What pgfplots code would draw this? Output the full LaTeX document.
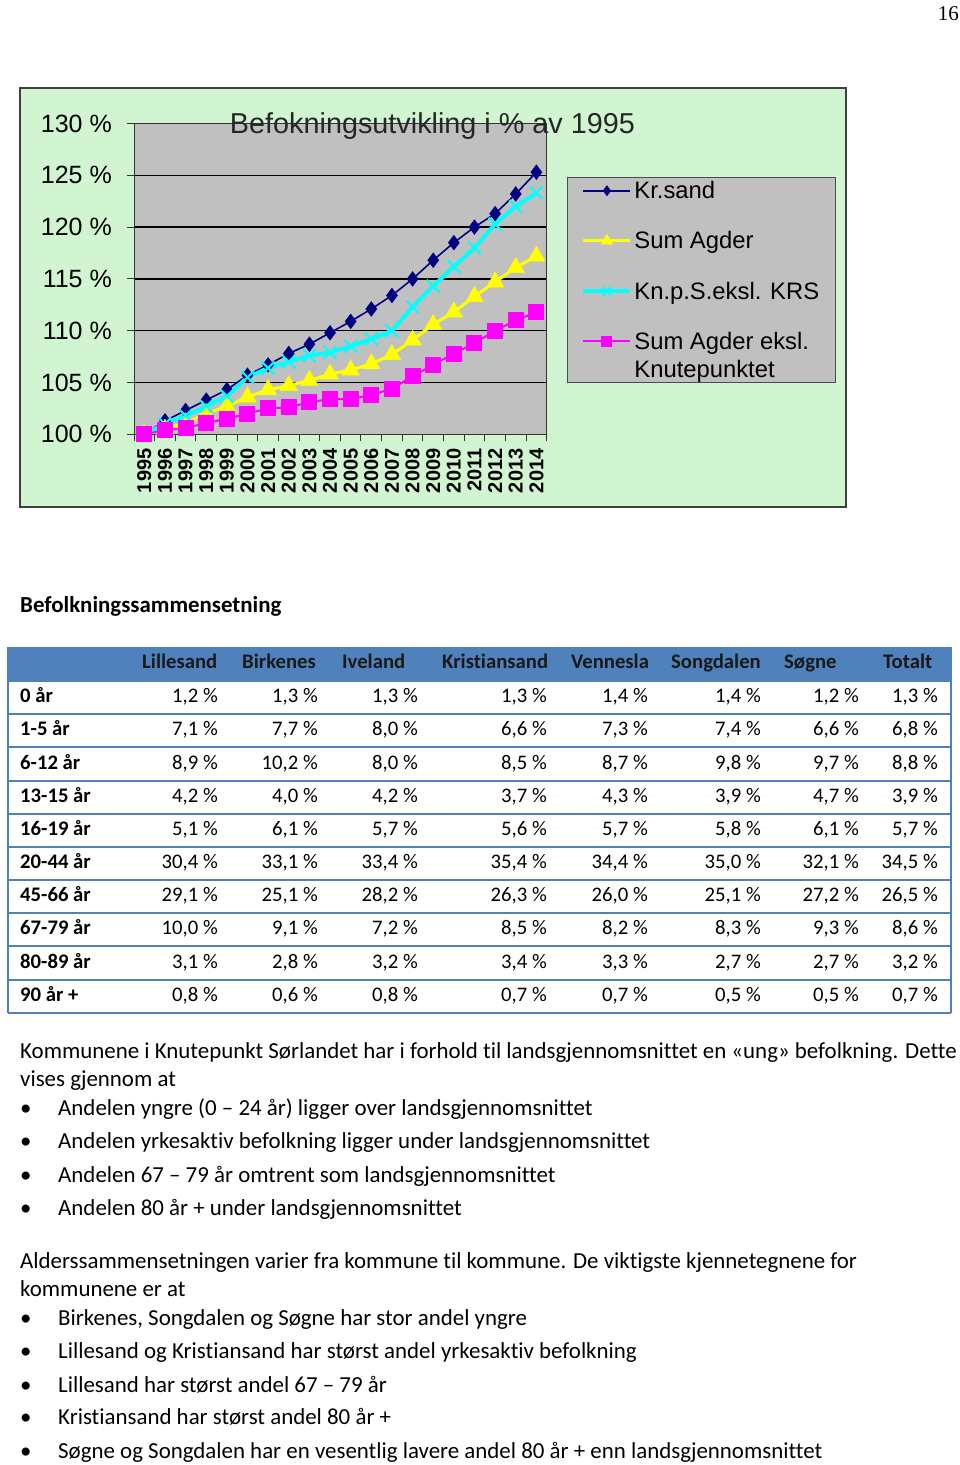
\documentclass[border=0pt]{standalone}
\usepackage{fontspec}
\setmainfont{Carlito}[Ligatures=NoCommon]
\newfontfamily\chartfont{Liberation Sans}
\newfontfamily\timesfont{Liberation Serif}
\usepackage{pgfplots}
\pgfplotsset{compat=1.18}
\definecolor{chartgreen}{RGB}{208,245,208}
\definecolor{plotgray}{RGB}{192,192,192}
\definecolor{navyblue}{RGB}{0,0,128}
\definecolor{tblue}{RGB}{79,129,189}
\definecolor{myyellow}{RGB}{255,255,0}
\definecolor{mycyan}{RGB}{0,255,255}
\definecolor{mymagenta}{RGB}{255,0,255}
\pgfplotsset{
  leg one/.style={legend image code/.code={\draw[mark repeat=2,mark phase=2,##1, every mark/.append style={scale=0.65}] plot coordinates {(0pt,8pt) (23.5pt,8pt) (47pt,8pt)};}},
  leg two/.style={legend image code/.code={\draw[mark repeat=2,mark phase=2,##1, every mark/.append style={scale=0.65}] plot coordinates {(0pt,36pt) (23.5pt,36pt) (47pt,36pt)};}},
}
\newcommand\bodyfont{\fontsize{22.9}{27}\selectfont}
\newcommand\tabfont{\fontsize{20.7}{24}\selectfont}
\newcount\trowi
\trowi=0
\newcommand\trow[9]{%
  \pgfmathsetlengthmacro\ry{-(702.7pt+33.17pt*\the\trowi)}%
  \node[anchor=base west, font=\tabfont\bfseries, inner sep=0pt] at (20pt,\ry) {#1};
  \node[anchor=base east, font=\tabfont, inner sep=0pt] at (218pt,\ry) {#2 \%};
  \node[anchor=base east, font=\tabfont, inner sep=0pt] at (318pt,\ry) {#3 \%};
  \node[anchor=base east, font=\tabfont, inner sep=0pt] at (418pt,\ry) {#4 \%};
  \node[anchor=base east, font=\tabfont, inner sep=0pt] at (547pt,\ry) {#5 \%};
  \node[anchor=base east, font=\tabfont, inner sep=0pt] at (648pt,\ry) {#6 \%};
  \node[anchor=base east, font=\tabfont, inner sep=0pt] at (761pt,\ry) {#7 \%};
  \node[anchor=base east, font=\tabfont, inner sep=0pt] at (859pt,\ry) {#8 \%};
  \node[anchor=base east, font=\tabfont, inner sep=0pt] at (938pt,\ry) {#9 \%};
  \global\advance\trowi by 1
}
\begin{document}
\begin{tikzpicture}
\path[use as bounding box] (0,0) rectangle (960pt,-1465pt);
\node[anchor=base east, font=\timesfont\fontsize{21}{24}\selectfont, inner sep=0pt] at (959pt,-20.5pt) {16};
\draw[fill=chartgreen, draw=black!75, line width=1.2pt] (20pt,-88pt) rectangle (846pt,-507pt);
\begin{axis}[
  at={(134pt,-434.3pt)}, anchor=south west,
  scale only axis, width=412.7pt, height=310.8pt,
  xmin=-0.5, xmax=19.5, ymin=100, ymax=130,
  axis background/.style={fill=plotgray},
  axis line style={draw=black!80, line width=1pt},
  ytick={100,105,...,130},
  yticklabels={100 \%,105 \%,110 \%,115 \%,120 \%,125 \%,130 \%},
  ymajorgrids, major grid style={black, line width=1.3pt},
  xtick={-0.5,0.5,...,19.5},
  x tick label as interval,
  xticklabels={1995,1996,1997,1998,1999,2000,2001,2002,2003,2004,2005,2006,2007,2008,2009,2010,2011,2012,2013,2014},
  tick align=outside, tick pos=left,
  major tick length=7pt,
  tick style={draw=black!80, line width=1pt},
  y tick label style={font=\chartfont\fontsize{25}{28}\selectfont, inner sep=0pt, xshift=-15pt},
  x tick label style={font=\chartfont\bfseries\fontsize{20}{22}\selectfont, rotate=90, anchor=east, inner xsep=7pt, inner ysep=0pt},
  legend style={at={(1.049,0.828)}, anchor=north west, fill=plotgray, draw=black!70, line width=1pt,
    font=\chartfont\fontsize{23.8}{28}\selectfont, row sep=27.5pt, inner xsep=14pt, inner ysep=2pt,
    nodes={inner sep=2pt, text=black}, cells={anchor=base west, align=left}},
  leg one,
]
\addplot[navyblue, line width=1.6pt, mark=diamond*, mark size=6.5pt, mark options={fill=navyblue, draw=navyblue}] coordinates {
(0,100) (1,101.3) (2,102.3) (3,103.3) (4,104.3) (5,105.7) (6,106.7) (7,107.8) (8,108.7) (9,109.8)
(10,110.9) (11,112.1) (12,113.4) (13,115.0) (14,116.8) (15,118.5) (16,120.0) (17,121.3) (18,123.2) (19,125.3)};
\addlegendentry{Kr.sand}
\addplot[myyellow, line width=3pt, mark=triangle*, mark size=10pt, mark options={fill=myyellow, draw=myyellow, line width=0.5pt}] coordinates {
(0,100) (1,100.5) (2,101.1) (3,102.0) (4,102.7) (5,103.6) (6,104.3) (7,104.7) (8,105.2) (9,105.8)
(10,106.2) (11,106.8) (12,107.7) (13,109.1) (14,110.6) (15,111.8) (16,113.3) (17,114.7) (18,116.1) (19,117.2)};
\addlegendentry{Sum Agder}
\addplot[mycyan, line width=4pt, mark=x, mark size=9pt, mark options={draw=mycyan, line width=2pt}] coordinates {
(0,100) (1,101.0) (2,101.8) (3,102.7) (4,103.7) (5,105.5) (6,106.4) (7,107.0) (8,107.6) (9,107.9)
(10,108.5) (11,109.2) (12,110.0) (13,112.3) (14,114.3) (15,116.2) (16,118.0) (17,120.3) (18,122.0) (19,123.3)};
\addlegendentry{Kn.p.S.eksl. KRS}
\addplot[mymagenta, line width=2pt, mark=square*, mark size=7pt, mark options={fill=mymagenta, draw=mymagenta}, leg two] coordinates {
(0,100) (1,100.4) (2,100.6) (3,101.1) (4,101.5) (5,102.0) (6,102.5) (7,102.6) (8,103.1) (9,103.4)
(10,103.4) (11,103.8) (12,104.4) (13,105.6) (14,106.7) (15,107.8) (16,108.8) (17,110.0) (18,111.0) (19,111.8)};
\addlegendentry{Sum Agder eksl.\\Knutepunktet}
\end{axis}
\node[anchor=base, font=\chartfont\fontsize{28.8}{32}\selectfont, inner sep=0pt, text=black!85] at (432.5pt,-133pt) {Befokningsutvikling i \% av 1995};
% table
\node[anchor=base west, font=\bodyfont\bfseries, inner sep=0pt] at (20pt,-612.3pt) {Befolkningssammensetning};
\fill[tblue] (8pt,-647pt) rectangle (951pt,-681pt);
\foreach \k in {0,...,10} {\draw[tblue, line width=2pt] (8pt,{-681pt-33.17pt*\k}) -- (951pt,{-681pt-33.17pt*\k});}
\draw[tblue, line width=2pt] (8pt,-647pt) -- (8pt,-1012.7pt);
\draw[tblue, line width=2pt] (951pt,-647pt) -- (951pt,-1012.7pt);
\foreach \x/\t in {142/Lillesand,242/Birkenes,342/Iveland,442/Kristiansand,571/Vennesla,671/Songdalen,784/Søgne,883/Totalt}
  {\node[anchor=base west, font=\tabfont\bfseries, inner sep=0pt, text=black!90] at (\x pt,-668.3pt) {\t};}
\trow{0 år}{1,2}{1,3}{1,3}{1,3}{1,4}{1,4}{1,2}{1,3}
\trow{1-5 år}{7,1}{7,7}{8,0}{6,6}{7,3}{7,4}{6,6}{6,8}
\trow{6-12 år}{8,9}{10,2}{8,0}{8,5}{8,7}{9,8}{9,7}{8,8}
\trow{13-15 år}{4,2}{4,0}{4,2}{3,7}{4,3}{3,9}{4,7}{3,9}
\trow{16-19 år}{5,1}{6,1}{5,7}{5,6}{5,7}{5,8}{6,1}{5,7}
\trow{20-44 år}{30,4}{33,1}{33,4}{35,4}{34,4}{35,0}{32,1}{34,5}
\trow{45-66 år}{29,1}{25,1}{28,2}{26,3}{26,0}{25,1}{27,2}{26,5}
\trow{67-79 år}{10,0}{9,1}{7,2}{8,5}{8,2}{8,3}{9,3}{8,6}
\trow{80-89 år}{3,1}{2,8}{3,2}{3,4}{3,3}{2,7}{2,7}{3,2}
\trow{90 år +}{0,8}{0,6}{0,8}{0,7}{0,7}{0,5}{0,5}{0,7}
% text
\begin{scope}[every node/.style={anchor=base west, font=\bodyfont, inner sep=0pt}]
\node at (20pt,-1058pt) {Kommunene i Knutepunkt Sørlandet har i forhold til landsgjennomsnittet en «ung» befolkning. Dette};
\node at (20pt,-1086pt) {vises gjennom at};
\foreach \y/\t in {1115/{Andelen yngre (0 – 24 år) ligger over landsgjennomsnittet},1148/{Andelen yrkesaktiv befolkning ligger under landsgjennomsnittet},1182/{Andelen 67 – 79 år omtrent som landsgjennomsnittet},1215/{Andelen 80 år + under landsgjennomsnittet}}
  {\node at (20pt,-\y pt) {•}; \node at (58pt,-\y pt) {\t};}
\node at (20pt,-1268pt) {Alderssammensetningen varier fra kommune til kommune. De viktigste kjennetegnene for};
\node at (20pt,-1296pt) {kommunene er at};
\foreach \y/\t in {1325/{Birkenes, Songdalen og Søgne har stor andel yngre},1358/{Lillesand og Kristiansand har størst andel yrkesaktiv befolkning},1392/{Lillesand har størst andel 67 – 79 år},1424/{Kristiansand har størst andel 80 år +},1458/{Søgne og Songdalen har en vesentlig lavere andel 80 år + enn landsgjennomsnittet}}
  {\node at (20pt,-\y pt) {•}; \node at (58pt,-\y pt) {\t};}
\end{scope}
\end{tikzpicture}
\end{document}
